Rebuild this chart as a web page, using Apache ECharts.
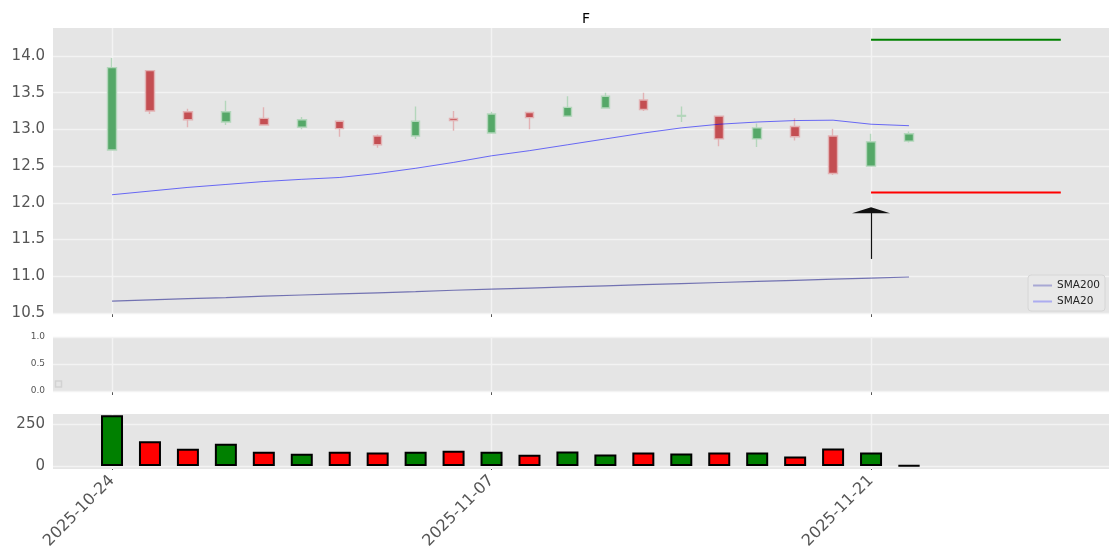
<!DOCTYPE html>
<html><head><meta charset="utf-8">
<script src="https://cdn.jsdelivr.net/npm/echarts@6/dist/echarts.min.js"></script>
<style>html,body{margin:0;padding:0;background:#fff}#c{width:1120px;height:560px}</style>
</head><body><div id="c"></div>
<script>
// ---- data ----
const dates = ['2025-10-24','2025-10-27','2025-10-28','2025-10-29','2025-10-30','2025-10-31',
  '2025-11-03','2025-11-04','2025-11-05','2025-11-06','2025-11-07',
  '2025-11-10','2025-11-11','2025-11-12','2025-11-13','2025-11-14',
  '2025-11-17','2025-11-18','2025-11-19','2025-11-20','2025-11-21','2025-11-24'];
const opens  = [12.72,13.80,13.24,13.10,13.15,13.03,13.11,12.91,12.91,13.15,12.95,13.23,13.18,13.29,13.40,13.18,13.18,12.87,13.04,12.91,12.50,12.84];
const highs  = [13.97,13.80,13.28,13.39,13.30,13.17,13.11,12.93,13.31,13.25,13.24,13.24,13.45,13.50,13.50,13.31,13.18,13.08,13.15,13.01,12.94,12.97];
const lows   = [12.71,13.21,13.03,13.06,13.06,13.00,12.90,12.75,12.87,12.98,12.95,13.00,13.18,13.29,13.25,13.10,12.77,12.76,12.85,12.38,12.50,12.82];
const closes = [13.84,13.25,13.13,13.24,13.06,13.13,13.01,12.79,13.11,13.12,13.21,13.16,13.30,13.45,13.27,13.19,12.87,13.02,12.90,12.40,12.83,12.94];
const volumes = [305,149,103,133,85,73,85,81,85,91,85,67,87,69,81,75,81,81,57,105,81,4];
const sma20  = [12.11,12.16,12.21,12.25,12.29,12.32,12.345,12.40,12.47,12.55,12.64,12.71,12.79,12.87,12.95,13.02,13.07,13.10,13.12,13.125,13.07,13.05];
const sma200 = [10.663,10.68,10.695,10.71,10.73,10.745,10.76,10.775,10.79,10.81,10.825,10.84,10.855,10.87,10.885,10.90,10.915,10.93,10.945,10.96,10.975,10.99];
const targetHigh = 14.22;
const targetLow = 12.14;
const levelRange = [20, 25];
const arrowIdx = 20;
const arrowTail = 11.236;
const arrowHead = 11.90;
const priceTicks = [10.5,11.0,11.5,12.0,12.5,13.0,13.5,14.0];
const midTicks = [0,0.5,1.0];
const volTicks = [0,250];
const dateTickIdx = [0,10,20];

// ---- layout ----
const xMin = -1.555, xMax = 26.27;
const GRID_LINE = {color:'#f3f3f3', width:1.4, type:'solid'};
const TXT = '#555555';
const FONT = 'DejaVu Sans';

function gridLines(gi, yTicks){
  return {
    type:'line', xAxisIndex:gi, yAxisIndex:gi, data:[], z:1, silent:true,
    markLine:{silent:true, z:1, symbol:'none', animation:false, label:{show:false},
      lineStyle:GRID_LINE,
      data:[...dateTickIdx.map(v=>({xAxis:v})), ...yTicks.map(v=>({yAxis:v}))]}
  };
}
function xAx(gi, showLabel){
  return {type:'value', gridIndex:gi, min:xMin, max:xMax,
    axisLine:{show:false}, splitLine:{show:false},
    axisTick:{show:true, customValues:dateTickIdx, length:4, lineStyle:{color:TXT}},
    axisLabel:{show:showLabel, customValues:dateTickIdx, formatter:v=>dates[Math.round(v)],
      rotate:45, fontSize:16, color:TXT, margin:9, fontFamily:FONT}};
}
function yAx(gi, min, max, ticks, fs, fmt){
  return {type:'value', gridIndex:gi, min:min, max:max,
    axisLine:{show:false}, splitLine:{show:false},
    axisTick:{show:true, customValues:ticks, length:4, lineStyle:{color:TXT}},
    axisLabel:{customValues:ticks, formatter:fmt, fontSize:fs, color:TXT, margin:8, fontFamily:FONT}};
}

const chart = echarts.init(document.getElementById('c'));
chart.setOption({
  animation:false,
  textStyle:{fontFamily:FONT},
  title:{text:'F', left:581, textAlign:'center', top:7,
    textStyle:{fontSize:14, fontWeight:'normal', color:'#000', fontFamily:FONT}},
  legend:{orient:'vertical', right:15, top:275, icon:'rect', itemWidth:19, itemHeight:2, itemGap:5,
    padding:[5,5,4,5], backgroundColor:'#e8e8e8', borderColor:'#d6d6d6', borderWidth:1, borderRadius:3,
    textStyle:{fontSize:10.5, color:'#222', fontFamily:FONT},
    data:[{name:'SMA200', itemStyle:{color:'#a8a8d4'}},{name:'SMA20', itemStyle:{color:'#acacf0'}}]},
  grid:[
    {left:53, right:11, top:28, height:285, show:true, backgroundColor:'#e5e5e5', borderWidth:0},
    {left:53, right:11, top:337, height:54, show:true, backgroundColor:'#e5e5e5', borderWidth:0},
    {left:53, right:11, top:414, height:55, show:true, backgroundColor:'#e5e5e5', borderWidth:0}
  ],
  xAxis:[xAx(0,false), xAx(1,false), xAx(2,true)],
  yAxis:[
    yAx(0, 10.5, 14.38, priceTicks, 15, v=>v.toFixed(1)),
    yAx(1, 0, 1, midTicks, 9, v=>v.toFixed(1)),
    yAx(2, -18, 312, volTicks, 15, v=>String(v))
  ],
  graphic:[{type:'rect', shape:{x:55.5, y:381, width:6, height:6},
    style:{fill:'none', stroke:'#d2d2d2', lineWidth:1.5}}],
  series:[
    gridLines(0, priceTicks), gridLines(1, midTicks), gridLines(2, volTicks),
    {type:'candlestick', name:'F', xAxisIndex:0, yAxisIndex:0, z:3,
      data:dates.map((d,i)=>[i, opens[i], closes[i], lows[i], highs[i]]),
      encode:{x:0, y:[1,2,3,4]}, barWidth:9,
      itemStyle:{color:'#55a868', color0:'#c44e52', borderColor:'#b3d6bb', borderColor0:'#e2b2b4', borderWidth:1.4}},
    {type:'line', name:'SMA200', xAxisIndex:0, yAxisIndex:0, z:4, symbol:'none', showSymbol:false,
      data:sma200.map((v,i)=>[i,v]), lineStyle:{color:'rgba(0,0,128,0.5)', width:1.2}, itemStyle:{color:'rgba(0,0,128,0.5)'}},
    {type:'line', name:'SMA20', xAxisIndex:0, yAxisIndex:0, z:4, symbol:'none', showSymbol:false,
      data:sma20.map((v,i)=>[i,v]), lineStyle:{color:'rgba(0,0,255,0.55)', width:1}, itemStyle:{color:'rgba(0,0,255,0.55)'}},
    {type:'line', name:'target', xAxisIndex:0, yAxisIndex:0, z:4, symbol:'none',
      data:levelRange.map(x=>[x,targetHigh]), lineStyle:{color:'#008000', width:2}},
    {type:'line', name:'stop', xAxisIndex:0, yAxisIndex:0, z:4, symbol:'none',
      data:levelRange.map(x=>[x,targetLow]), lineStyle:{color:'#ff0000', width:2}},
    {type:'line', name:'arrow', xAxisIndex:0, yAxisIndex:0, z:5, data:[],
      markLine:{silent:true, symbol:['none','triangle'], symbolSize:[38,6], label:{show:false}, animation:false,
        lineStyle:{color:'#111', width:1.2, type:'solid'},
        data:[[{coord:[arrowIdx, arrowTail]},{coord:[arrowIdx, arrowHead]}]]}},
    {type:'bar', name:'Volume', xAxisIndex:2, yAxisIndex:2, z:3, barWidth:22,
      data:volumes.map((v,i)=>({value:[i,v], itemStyle:{color: closes[i]>=opens[i] ? '#008000' : '#ff0000'}})),
      itemStyle:{borderColor:'#000', borderWidth:2}}
  ]
});
</script></body></html>
